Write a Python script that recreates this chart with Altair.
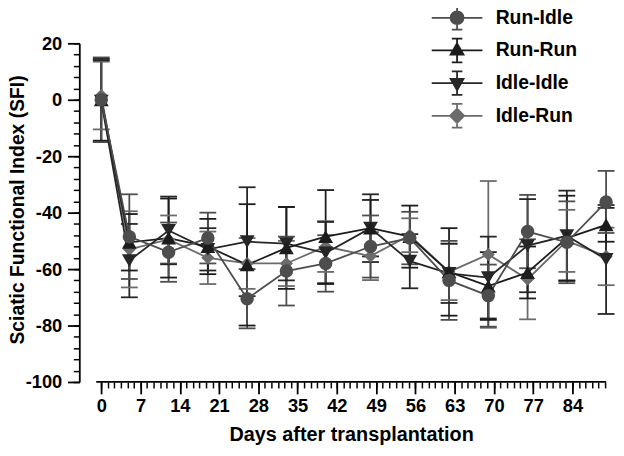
import altair as alt
import pandas as pd

# ---------------- data ----------------
days = [0, 5, 12, 19, 26, 33, 40, 48, 55, 62, 69, 76, 83, 90]
series_names = ["Run-Idle", "Run-Run", "Idle-Idle", "Idle-Run"]

run_idle_mean = [0, -48.5, -54, -49, -70.5, -60.7, -58, -52, -49, -64, -69.4, -46.7, -50.5, -36.2]
run_idle_sd = [15, 15, 10.5, 9, 10.5, 12.2, 10, 11, 9.3, 14, 11, 13, 14.5, 11]

run_run_mean = [0, -50.5, -49, -52, -58.5, -52.5, -48.5, -45.5, -48.5, -61, -66, -61.2, -49, -44.3]
run_run_sd = [14.5, 10, 14, 9.8, 21.5, 14.5, 16.5, 10, 11, 15.5, 12, 9.2, 15, 6]

idle_idle_mean = [-0.5, -57, -46.3, -53, -50.3, -51, -54.3, -45.5, -57.2, -61.5, -63, -51.7, -48.2, -56.6]
idle_idle_sd = [14.5, 13, 12, 7.5, 19.3, 13, 11, 12, 9.6, 10.5, 14.5, 16.5, 16, 19.3]

idle_run_mean = [1.5, -53, -49.5, -56, -58, -58, -52, -55.4, -48, -61, -54.8, -63.6, -50, -55.5]
idle_run_sd = [12, 13.5, 8.5, 9.3, 9, 8, 9, 8.5, 6, 10, 26, 14.2, 11, 10.2]

x_major_ticks = [0, 7, 14, 21, 28, 35, 42, 49, 56, 63, 70, 77, 84]
x_minor_ticks = [round(k * 7 / 6, 4) for k in range(0, 78)]
y_major_ticks = [-100, -80, -60, -40, -20, 0, 20]
y_minor_ticks = list(range(-100, 21, 4))

x_title = "Days after transplantation"
y_title = "Sciatic Functional Index (SFI)"

# ---------------- styles ----------------
series_colors = ["#4d4d4d", "#1c1c1c", "#262626", "#6b6b6b"]
point_shapes = ["circle", "triangle-up", "triangle-down", "diamond"]
point_sizes = [185, 225, 225, 175]
FONT = "Liberation Sans"
LW = 1.8

means = {"Run-Idle": run_idle_mean, "Run-Run": run_run_mean,
         "Idle-Idle": idle_idle_mean, "Idle-Run": idle_run_mean}
sds = {"Run-Idle": run_idle_sd, "Run-Run": run_run_sd,
       "Idle-Idle": idle_idle_sd, "Idle-Run": idle_run_sd}

draw_order = ["Idle-Run", "Idle-Idle", "Run-Run", "Run-Idle"]
rows = []
for s in draw_order:
    for d, m, e in zip(days, means[s], sds[s]):
        rows.append({"series": s, "day": d, "mean": m, "sd": e})
df = pd.DataFrame(rows)

# ---------------- legend symbols (line + error bar + marker) ----------------
def poly(pts, ks, cy=0.0):
    out = ""
    for k in ks:
        p = [(x * k, cy + (y - cy) * k) for x, y in pts]
        out += "M%.3f,%.3f" % p[0] + "".join("L%.3f,%.3f" % q for q in p[1:]) + "Z"
    return out

def rings(rs):
    out = ""
    for r in rs:
        out += "M%.3f,0A%.3f,%.3f 0 1,1 %.3f,0A%.3f,%.3f 0 1,1 %.3f,0Z" % (r, r, r, -r, r, r, r)
    return out

cross = "M-1.97,0L1.97,0M0,-0.92L0,0.92M-0.41,-0.92L0.41,-0.92M-0.41,0.92L0.41,0.92"
legend_paths = [
    cross + rings([0.5, 0.4, 0.3, 0.2, 0.1, 0.02]),
    cross + poly([(0, -0.55), (0.5, 0.32), (-0.5, 0.32)], [1, 0.8, 0.6, 0.4, 0.2, 0.05], 0.03),
    cross + poly([(0, 0.55), (0.5, -0.32), (-0.5, -0.32)], [1, 0.8, 0.6, 0.4, 0.2, 0.05], -0.03),
    cross + poly([(0, -0.55), (0.55, 0), (0, 0.55), (-0.55, 0)], [1, 0.8, 0.6, 0.4, 0.2, 0.05]),
]

# ---------------- scales / axes ----------------
xs = alt.Scale(domain=[-3.92, 90], nice=False, zero=False)
ys = alt.Scale(domain=[-100, 20], nice=False, zero=False)
cs = alt.Scale(domain=series_names, range=series_colors)

x_axis_major = alt.Axis(
    orient="bottom", values=x_major_ticks, domain=False, grid=False,
    tickSize=12, tickWidth=LW, tickColor="black",
    labelFont=FONT, labelFontSize=18.5, labelFontWeight="bold", labelColor="black",
    labelPadding=17.8, labelBaseline="alphabetic", labelFlush=False, labelOverlap=False,
    labelExpr="'' + datum.value",
    title=x_title, titleFont=FONT, titleFontSize=20, titleFontWeight="bold",
    titleColor="black", titleX=274.5, titleY=59.5, titleBaseline="alphabetic",
    titleAlign="center",
)
x_axis_minor = alt.Axis(
    orient="bottom", values=x_minor_ticks, domain=False, grid=False, labels=False,
    tickSize=6, tickWidth=1.5, tickColor="black", title=None,
)
y_axis_major = alt.Axis(
    orient="left", values=y_major_ticks, domain=True, domainColor="black",
    domainWidth=LW, grid=False, tickSize=12, tickWidth=LW, tickColor="black",
    labelFont=FONT, labelFontSize=18.5, labelFontWeight="bold", labelColor="black",
    labelPadding=5.7, labelFlush=False, labelOverlap=False,
    labelExpr="'' + datum.value",
    title=y_title, titleFont=FONT, titleFontSize=19.5, titleFontWeight="bold",
    titleColor="black", titleX=-56.8, titleY=167.8, titleBaseline="alphabetic",
    titleAlign="center", titleAngle=270,
)
y_axis_minor = alt.Axis(
    orient="left", values=y_minor_ticks, domain=False, grid=False, labels=False,
    tickSize=6, tickWidth=1.5, tickColor="black", title=None,
)

base = alt.Chart(df).transform_calculate(
    lo="datum.mean - datum.sd", hi="datum.mean + datum.sd"
)

bars = base.mark_rule(strokeWidth=LW).encode(
    x=alt.X("day:Q", scale=xs, axis=x_axis_major),
    y=alt.Y("lo:Q", scale=ys, axis=y_axis_major),
    y2="hi:Q",
    color=alt.Color("series:N", scale=cs, legend=None),
)
caps_hi = base.mark_tick(orient="horizontal", size=17, thickness=LW, opacity=1).encode(
    x=alt.X("day:Q", scale=xs, axis=x_axis_minor),
    y=alt.Y("hi:Q", scale=ys, axis=y_axis_minor),
    color=alt.Color("series:N", scale=cs, legend=None),
)
caps_lo = base.mark_tick(orient="horizontal", size=17, thickness=LW, opacity=1).encode(
    x=alt.X("day:Q", scale=xs, axis=None),
    y=alt.Y("lo:Q", scale=ys, axis=None),
    color=alt.Color("series:N", scale=cs, legend=None),
)
lines = base.mark_line(strokeWidth=LW).encode(
    x=alt.X("day:Q", scale=xs, axis=None),
    y=alt.Y("mean:Q", scale=ys, axis=None),
    color=alt.Color("series:N", scale=cs, legend=None),
    order="day:Q",
)

point_layers = []
for s in draw_order:
    i = series_names.index(s)
    point_layers.append(
        base.transform_filter(alt.datum.series == s).mark_point(
            filled=True, opacity=1, shape=point_shapes[i], size=point_sizes[i],
            color=series_colors[i],
        ).encode(
            x=alt.X("day:Q", scale=xs, axis=None),
            y=alt.Y("mean:Q", scale=ys, axis=None),
        )
    )

# x axis line (detached from the y axis, from just before day 0 to day 90)
axis_line_df = pd.DataFrame({"x0": [-0.9], "x1": [90], "y0": [-100]})
x_axis_line = alt.Chart(axis_line_df).mark_rule(strokeWidth=LW, color="black").encode(
    x=alt.X("x0:Q", scale=xs, axis=None),
    x2="x1:Q",
    y=alt.Y("y0:Q", scale=ys, axis=None),
)

legend = alt.Legend(
    orient="none", legendX=367.5, legendY=-39.8, title=None, padding=0,
    labelFont=FONT, labelFontSize=19.5, labelFontWeight="bold", labelColor="black",
    labelLimit=300, labelOffset=25, rowPadding=1.0,
    symbolSize=676, symbolStrokeWidth=LW, symbolOpacity=1,
)
legend_df = pd.DataFrame({"series": series_names})
legend_layer = alt.Chart(legend_df).transform_filter("false").mark_point(
    filled=False, opacity=1, size=676, strokeWidth=LW
).encode(
    color=alt.Color("series:N", scale=cs, legend=legend),
    shape=alt.Shape("series:N", scale=alt.Scale(domain=series_names, range=legend_paths), legend=legend),
)

chart = alt.layer(
    bars, caps_hi, caps_lo, x_axis_line, lines, *point_layers, legend_layer
).resolve_scale(
    color="independent", shape="independent"
).resolve_axis(
    x="independent", y="independent"
).properties(
    width=532, height=342,
    padding={"left": 72, "top": 33.5, "right": 10, "bottom": 64.5},
    autosize=alt.AutoSizeParams(type="none"),
    background="white",
).configure_view(stroke=None)

chart.save("out.html", embed_options={"renderer": "svg", "actions": False})
